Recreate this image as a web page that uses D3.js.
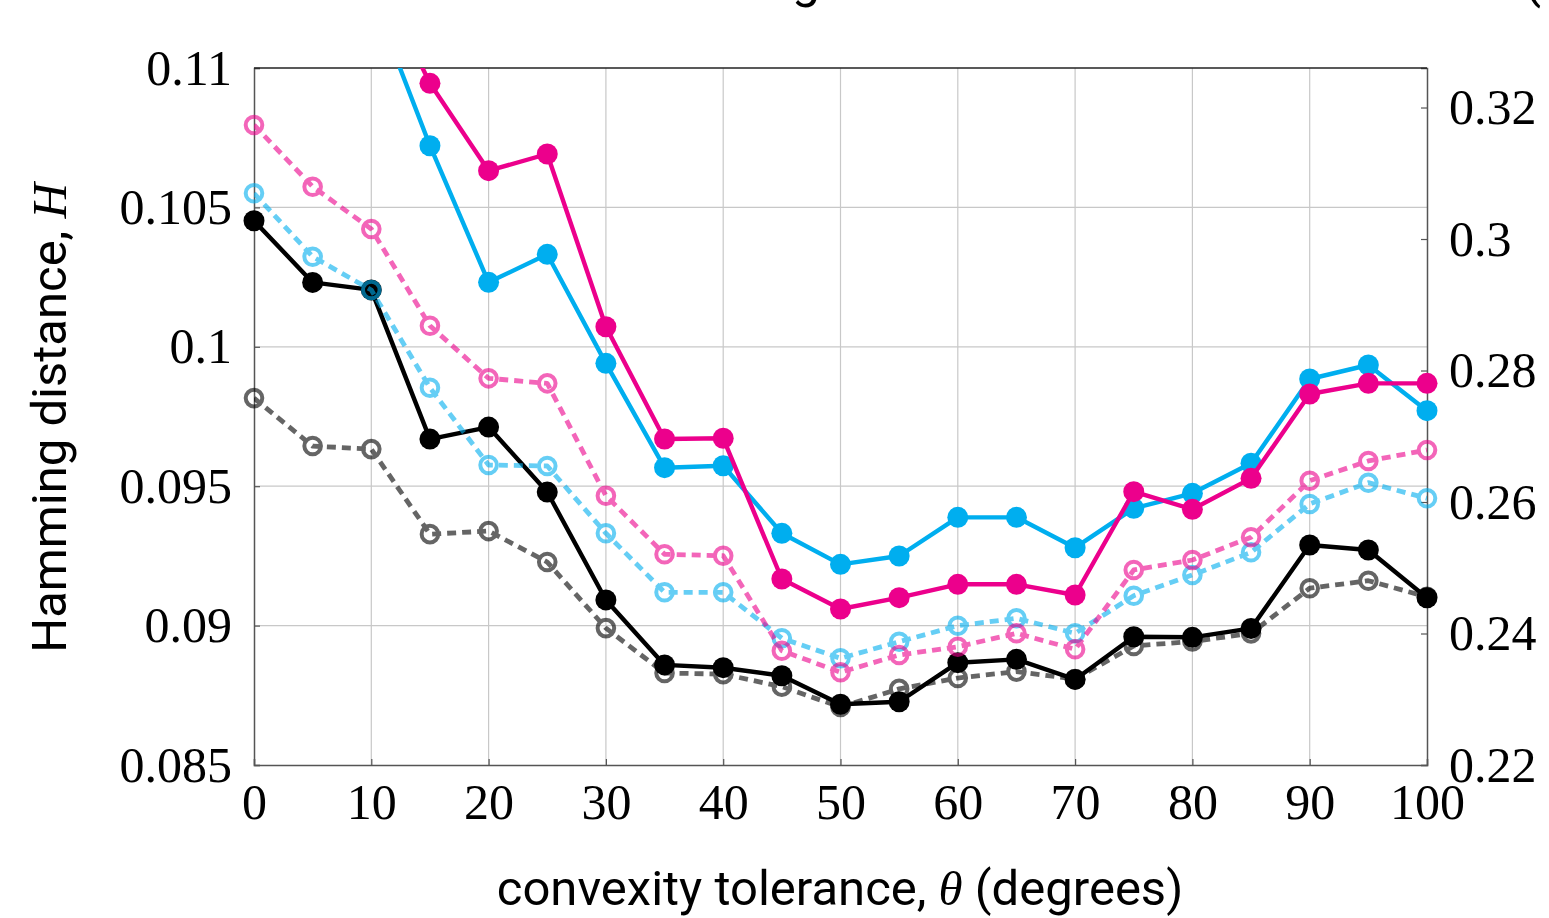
<!DOCTYPE html>
<html>
<head>
<meta charset="utf-8">
<script src="https://cdn.jsdelivr.net/npm/d3@7"></script>
<style>
  body { margin: 0; background: #fff; }
  svg { display: block; }
</style>
</head>
<body>
<div id="chart"></div>
<script>
const w = 1549;
const h = 918;
const margin = { top: 68, right: 122, bottom: 153, left: 254 };

// convexity tolerance (degrees)
const theta = [0, 5, 10, 15, 20, 25, 30, 35, 40, 45, 50, 55, 60, 65, 70, 75, 80, 85, 90, 95, 100];

// left axis series
const blackSolid = [0.10452, 0.10231, 0.10204, 0.09669, 0.09712, 0.09479, 0.09092, 0.08859, 0.08849, 0.08820, 0.08718,
                    0.08727, 0.08867, 0.08879, 0.08807, 0.08960, 0.08958, 0.08990, 0.09289, 0.09271, 0.09100];
const grayDashed = [0.09816, 0.09644, 0.09633, 0.09328, 0.09339, 0.09228, 0.08991, 0.08830, 0.08826, 0.08781, 0.08708,
                    0.08773, 0.08812, 0.08835, 0.08808, 0.08927, 0.08943, 0.08972, 0.09134, 0.09161, 0.09103];

// right axis series (first points run off the top of the plot)
const cyanSolid = [0.352, 0.345, 0.3373, 0.31419, 0.29341, 0.29767, 0.28109, 0.26522, 0.26552, 0.25524, 0.25052,
                   0.25179, 0.25767, 0.25767, 0.25305, 0.25904, 0.26132, 0.26589, 0.27871, 0.28084, 0.27389];
const magentaSolid = [0.362, 0.352, 0.342, 0.32368, 0.31039, 0.31293, 0.28666, 0.26958, 0.26969, 0.24829, 0.24373,
                      0.24545, 0.24748, 0.24748, 0.24586, 0.26157, 0.25889, 0.26360, 0.27643, 0.27805, 0.27805];
const cyanDashed = [0.30695, 0.29731, 0.29224, 0.27738, 0.26563, 0.26548, 0.25524, 0.24627, 0.24627, 0.23927, 0.23623,
                    0.23875, 0.24119, 0.24231, 0.24003, 0.24575, 0.24890, 0.25235, 0.25970, 0.26294, 0.26056];
const magentaDashed = [0.31734, 0.30796, 0.30152, 0.28681, 0.27881, 0.27805, 0.26096, 0.25205, 0.25183, 0.23738, 0.23410,
                       0.23673, 0.23799, 0.24003, 0.23760, 0.24966, 0.25118, 0.25463, 0.26324, 0.26624, 0.26791];

const xTicks = [0, 10, 20, 30, 40, 50, 60, 70, 80, 90, 100];
const leftTicks = [0.085, 0.09, 0.095, 0.1, 0.105, 0.11];
const leftTickLabels = ["0.085", "0.09", "0.095", "0.1", "0.105", "0.11"];
const rightTicks = [0.22, 0.24, 0.26, 0.28, 0.30, 0.32];
const rightTickLabels = ["0.22", "0.24", "0.26", "0.28", "0.3", "0.32"];

const cyan = "#00aeef";
const magenta = "#ec008c";

const pw = w - margin.left - margin.right;
const ph = h - margin.top - margin.bottom;

const svg = d3.select("#chart").append("svg").attr("width", w).attr("height", h);

const x = d3.scaleLinear().domain([0, 100]).range([margin.left, margin.left + pw]);
const yL = d3.scaleLinear().domain([0.085, 0.11]).range([margin.top + ph, margin.top]);
const yR = d3.scaleLinear().domain([0.22, 0.32601]).range([margin.top + ph, margin.top]);

svg.append("defs").append("clipPath").attr("id", "plotclip")
    .append("rect")
    .attr("x", margin.left).attr("y", margin.top)
    .attr("width", pw).attr("height", ph);

// title, mostly cut off above the page
const titleText = "Hamming distance for each method and each tolerance (a)";
const title = svg.append("text")
    .attr("x", 0).attr("y", -3)
    .style("font-family", "Roboto, sans-serif")
    .style("font-size", "50px")
    .text(titleText);
const gIdx = titleText.indexOf("g");
const pIdx = titleText.indexOf("(");
let gPos = title.node().getStartPositionOfChar(gIdx).x;
let pPos = title.node().getStartPositionOfChar(pIdx).x;
const nSpaces = titleText.slice(gIdx, pIdx).split(" ").length - 1;
title.style("word-spacing", ((1524 - 792) - (pPos - gPos)) / nSpaces + "px");
gPos = title.node().getStartPositionOfChar(gIdx).x;
title.attr("x", 792 - gPos);

// grid
svg.append("g").selectAll("line").data(xTicks.slice(1, -1)).enter().append("line")
    .attr("x1", d => x(d)).attr("x2", d => x(d))
    .attr("y1", margin.top).attr("y2", margin.top + ph)
    .style("stroke", "#c8c8c8").style("stroke-width", 1.2);
svg.append("g").selectAll("line").data(leftTicks.slice(1, -1)).enter().append("line")
    .attr("x1", margin.left).attr("x2", margin.left + pw)
    .attr("y1", d => yL(d)).attr("y2", d => yL(d))
    .style("stroke", "#c8c8c8").style("stroke-width", 1.2);

// axes
const xAxis = d3.axisBottom(x).tickValues(xTicks).tickSize(-6).tickPadding(18).tickFormat(d3.format("d"));
const leftAxis = d3.axisLeft(yL).tickValues(leftTicks).tickSize(-6).tickPadding(22)
    .tickFormat((d, i) => leftTickLabels[i]);
const rightAxis = d3.axisRight(yR).tickValues(rightTicks).tickSize(-6).tickPadding(22)
    .tickFormat((d, i) => rightTickLabels[i]);

function styleAxis(g) {
    g.select(".domain").style("stroke", "#555").style("stroke-width", 1.5);
    g.selectAll(".tick line").style("stroke", "#555").style("stroke-width", 1.2);
    g.selectAll(".tick text")
        .style("font-family", "'Liberation Serif', 'DejaVu Serif', serif")
        .style("font-size", "50px")
        .style("fill", "#000");
}

svg.append("g").attr("transform", `translate(0,${margin.top + ph})`).call(xAxis).call(styleAxis);
svg.append("g").attr("transform", `translate(${margin.left},0)`).call(leftAxis).call(styleAxis);
svg.append("g").attr("transform", `translate(${margin.left + pw},0)`).call(rightAxis).call(styleAxis);

svg.append("line")
    .attr("x1", margin.left).attr("x2", margin.left + pw)
    .attr("y1", margin.top).attr("y2", margin.top)
    .style("stroke", "#222").style("stroke-width", 1.5);

// series
const series = [
    { values: blackSolid, y: yL, color: "#000", opacity: 1, dashed: false },
    { values: grayDashed, y: yL, color: "#000", opacity: 0.6, dashed: true },
    { values: cyanSolid, y: yR, color: cyan, opacity: 1, dashed: false },
    { values: magentaSolid, y: yR, color: magenta, opacity: 1, dashed: false },
    { values: cyanDashed, y: yR, color: cyan, opacity: 0.6, dashed: true },
    { values: magentaDashed, y: yR, color: magenta, opacity: 0.6, dashed: true }
];

series.forEach(s => {
    const pts = theta.map((t, i) => ({ t: t, v: s.values[i] }));
    const line = d3.line().x(d => x(d.t)).y(d => s.y(d.v));
    const g = svg.append("g").style("opacity", s.opacity);

    g.append("path")
        .datum(pts)
        .attr("clip-path", "url(#plotclip)")
        .attr("d", line)
        .style("fill", "none")
        .style("stroke", s.color)
        .style("stroke-width", s.dashed ? 4.8 : 4.4)
        .style("stroke-linejoin", "round")
        .style("stroke-dasharray", s.dashed ? "9,6" : null);

    g.selectAll("circle")
        .data(pts.filter(d => d.v <= s.y.domain()[1]))
        .enter()
        .append("circle")
        .attr("cx", d => x(d.t))
        .attr("cy", d => s.y(d.v))
        .attr("r", s.dashed ? 8.3 : 10.5)
        .style("fill", s.dashed ? "none" : s.color)
        .style("stroke", s.color)
        .style("stroke-width", s.dashed ? 4 : 0);
});

// axis titles
svg.append("text")
    .attr("x", 840).attr("y", 905)
    .attr("text-anchor", "middle")
    .style("font-family", "Roboto, sans-serif")
    .style("font-size", "49px")
    .html("convexity tolerance, <tspan font-family=\"'Liberation Serif', serif\" font-style=\"italic\">θ</tspan> (degrees)");

svg.append("text")
    .attr("transform", "translate(66,418) rotate(-90)")
    .attr("text-anchor", "middle")
    .style("font-family", "Roboto, sans-serif")
    .style("font-size", "49px")
    .html("Hamming distance, <tspan font-family=\"'Liberation Serif', serif\" font-style=\"italic\">H</tspan>");
</script>
</body>
</html>
